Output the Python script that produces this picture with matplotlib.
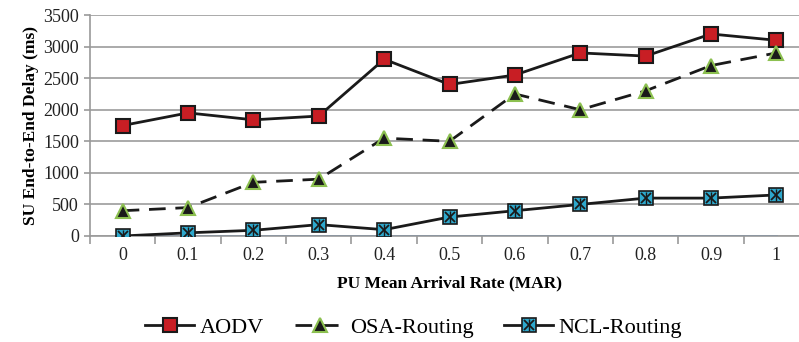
import matplotlib
matplotlib.use('Agg')
import matplotlib.pyplot as plt
import numpy as np

plt.rcParams['font.family'] = ['Liberation Serif', 'DejaVu Serif']

mar_labels = ['0', '0.1', '0.2', '0.3', '0.4', '0.5', '0.6', '0.7', '0.8', '0.9', '1']
aodv = [1750, 1950, 1840, 1900, 2800, 2400, 2550, 2900, 2850, 3200, 3100]
osa = [400, 450, 850, 900, 1550, 1500, 2250, 2000, 2300, 2700, 2900]
ncl = [0, 50, 90, 180, 100, 300, 400, 500, 600, 600, 650]
baseline = [0] * len(mar_labels)

x = np.arange(len(mar_labels))

fig = plt.figure(figsize=(7.99, 3.42), dpi=100)
ax = fig.add_axes([0.1126, 0.31, 0.9, 0.646])

ax.plot(x, baseline, color='#4a86c8', lw=2, zorder=2)
l1, = ax.plot(x, aodv, color='#1a1a1a', lw=2, marker='s', ms=10,
              mfc='#c81e24', mec='#1a1a1a', mew=1.5, label='AODV', zorder=4)
l2, = ax.plot(x, osa, color='#1a1a1a', lw=2, ls=(0, (6, 3.5)), marker='^', ms=10,
              mfc='#1a1a1a', mec='#8cc050', mew=1.5, label='OSA-Routing', zorder=4)
l3, = ax.plot(x, ncl, color='#1a1a1a', lw=2, marker='s', ms=10,
              mfc='#2ea8cc', mec='#1a1a1a', mew=1.2, label='NCL-Routing', zorder=4)
lx, = ax.plot(x, ncl, ls='none', marker='x', ms=7, mec='#1a1a1a', mew=1.3, zorder=5)
lb, = ax.plot(x, ncl, ls='none', marker='|', ms=8, mec='#1a1a1a', mew=1.0, zorder=5)

ax.set_xlim(-0.5, len(mar_labels) - 0.5)
ax.set_ylim(0, 3500)
ax.set_yticks(range(0, 3501, 500))
ax.set_xticks(x)
ax.set_xticklabels(mar_labels)
ax.set_xticks(np.arange(-0.5, len(mar_labels)), minor=True)
ax.tick_params(axis='x', which='major', length=0, pad=8, labelsize=13, labelcolor='#222222')
ax.tick_params(axis='x', which='minor', length=6, width=1.2, color='#999999')
ax.tick_params(axis='y', length=4, width=1.2, color='#999999', labelsize=13,
               labelcolor='#222222', pad=4)

ax.grid(axis='y', color='#aaaaaa', lw=1.4, zorder=0)
ax.set_axisbelow(True)
for s in ['top', 'right']:
    ax.spines[s].set_visible(False)
ax.spines['left'].set_color('#999999')
ax.spines['left'].set_linewidth(1.2)
ax.spines['bottom'].set_color('#999999')
ax.spines['bottom'].set_linewidth(1.2)

ax.set_xlabel('PU Mean Arrival Rate (MAR)', fontsize=12.5, fontweight='bold', labelpad=8)
ax.set_ylabel('SU End-to-End Delay (ms)', fontsize=12.5, fontweight='bold', labelpad=3)

fig.legend(handles=[l1, l2, (l3, lx, lb)], labels=['AODV', 'OSA-Routing', 'NCL-Routing'],
           loc='center', bbox_to_anchor=(0.518, 0.043), ncol=3,
           frameon=False, fontsize=16, handlelength=2.2, columnspacing=1.4, handletextpad=0.25)

fig.savefig('out.png', dpi=100)
